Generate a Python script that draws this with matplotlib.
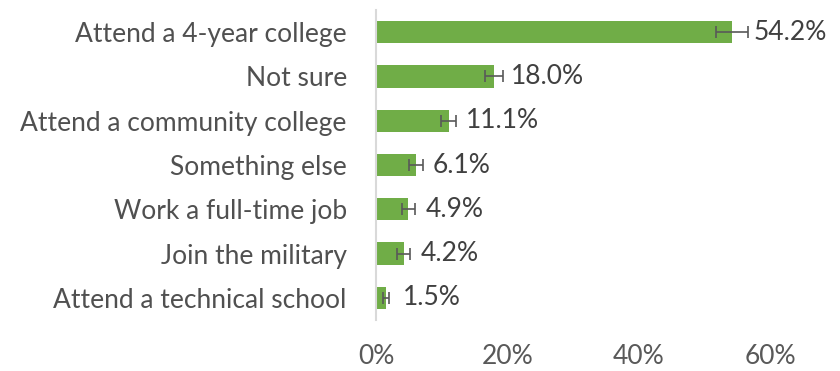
import matplotlib.pyplot as plt

# data
categories = ["Attend a 4-year college", "Not sure", "Attend a community college",
              "Something else", "Work a full-time job", "Join the military",
              "Attend a technical school"]
values = [54.2, 18.0, 11.1, 6.1, 4.9, 4.2, 1.5]
errors = [2.4, 1.4, 1.15, 1.0, 1.0, 1.0, 0.45]
xticks = [0, 20, 40, 60]

plt.rcParams['font.family'] = ['Lato', 'DejaVu Sans']

fig = plt.figure(figsize=(8.4, 3.71), dpi=100)
ax = fig.add_axes([0.4476, 0.1375, 0.4691, 0.8355])

ypos = list(range(len(categories)))
ax.barh(ypos, values, height=0.5, color='#70ad47', edgecolor='none',
        xerr=errors, error_kw=dict(ecolor='#595959', elinewidth=1.2,
                                   capsize=4, capthick=1.2))

for y, v, e in zip(ypos, values, errors):
    ax.text(v + max(2.6, e + 0.9), y, f"{v:.1f}%", va='center', ha='left',
            fontsize=19, color='#404040')

ax.set_xlim(0, 60)
ax.set_ylim(len(categories) - 0.5, -0.5)
ax.set_yticks(ypos)
ax.set_yticklabels(categories, fontsize=19, color='#505050')
ax.set_xticks(xticks)
ax.set_xticklabels([f"{t}%" for t in xticks], fontsize=19, color='#595959')
ax.tick_params(axis='y', length=0, pad=21)
ax.tick_params(axis='x', length=0, pad=17)

for s in ['top', 'right', 'bottom']:
    ax.spines[s].set_visible(False)
ax.spines['left'].set_color('#d9d9d9')
ax.spines['left'].set_linewidth(1.5)

fig.savefig('out.png', dpi=100)
